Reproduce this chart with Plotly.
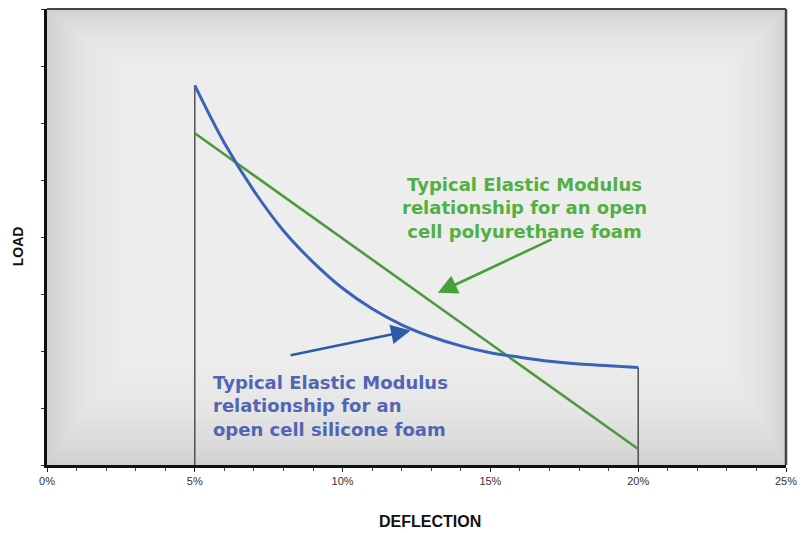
import plotly.graph_objects as go

# ---------------- data ----------------
silicone_x = [5, 6, 7, 8, 9, 10, 11, 12, 13, 14, 15, 16, 17, 18, 19, 20]
silicone_y = [6.66, 5.65, 4.81, 4.11, 3.56, 3.10, 2.74, 2.46, 2.25, 2.09, 1.97, 1.89, 1.82, 1.77, 1.74, 1.71]

polyurethane_x = [5, 20]
polyurethane_y = [5.82, 0.28]

x_tickvals = [0, 5, 10, 15, 20, 25]
x_ticktext = ["0%", "5%", "10%", "15%", "20%", "25%"]

green_label = "Typical Elastic Modulus<br>relationship for an open<br>cell polyurethane foam"
blue_label = "Typical Elastic Modulus<br>relationship for an<br>open cell silicone foam"

BLUE = "#3a62b6"
GREEN = "#4b9a3c"
GREEN_TXT = "#50b044"
BLUE_TXT = "#5265b4"

fig = go.Figure()

# vertical bounding lines at the start/end of the deflection range
fig.add_trace(go.Scatter(x=[silicone_x[0], silicone_x[0]], y=[0, silicone_y[0]],
                         mode="lines", line=dict(color="#3a3a3a", width=1.3),
                         hoverinfo="skip", showlegend=False))
fig.add_trace(go.Scatter(x=[silicone_x[-1], silicone_x[-1]], y=[0, silicone_y[-1]],
                         mode="lines", line=dict(color="#3a3a3a", width=1.3),
                         hoverinfo="skip", showlegend=False))

fig.add_trace(go.Scatter(x=polyurethane_x, y=polyurethane_y, mode="lines",
                         line=dict(color=GREEN, width=2.6), name="Polyurethane",
                         showlegend=False))
fig.add_trace(go.Scatter(x=silicone_x, y=silicone_y, mode="lines",
                         line=dict(color=BLUE, width=3, shape="spline", smoothing=1.0),
                         name="Silicone", showlegend=False))

# ---------------- background vignette ----------------
shapes = []
n = 16
for i in range(n):
    fx = 0.004 + i * 0.0065
    fy = 0.008 + i * 0.012
    shapes.append(dict(type="rect", xref="x domain", yref="y domain",
                       x0=fx, x1=1 - fx * 0.8, y0=fy * 1.2, y1=1 - fy * 0.7,
                       fillcolor="rgba(242,242,242,0.11)", line=dict(width=0),
                       layer="below"))
# top / right frame lines
shapes.append(dict(type="line", xref="x domain", yref="y domain", x0=0, x1=1, y0=1, y1=1,
                   line=dict(color="#444", width=2)))
shapes.append(dict(type="line", xref="x domain", yref="y domain", x0=1, x1=1, y0=0, y1=1,
                   line=dict(color="#444", width=2.5)))

annotations = [
    dict(x=16.14, y=4.51, xref="x", yref="y", text=green_label, showarrow=False,
         font=dict(family="DejaVu Sans", size=18, color=GREEN_TXT, weight="bold"),
         align="center", xanchor="center", yanchor="middle"),
    dict(x=5.55, y=1.03, xref="x", yref="y", text=blue_label, showarrow=False,
         font=dict(family="DejaVu Sans", size=18, color=BLUE_TXT, weight="bold"),
         align="left", xanchor="left", yanchor="middle"),
    # arrows
    dict(x=13.22, y=3.02, ax=17.12, ay=3.97, xref="x", yref="y", axref="x", ayref="y",
         text="", showarrow=True, arrowhead=2, arrowsize=1.5, arrowwidth=2.6,
         arrowcolor="#46a03a"),
    dict(x=12.3, y=2.36, ax=8.19, ay=1.92, xref="x", yref="y", axref="x", ayref="y",
         text="", showarrow=True, arrowhead=2, arrowsize=1.5, arrowwidth=2.6,
         arrowcolor="#2c5ca8"),
    # axis titles
    dict(x=0.518, y=-0.123, xref="paper", yref="paper", text="<b>DEFLECTION</b>",
         showarrow=False, font=dict(family="Liberation Sans", size=16, color="#111"),
         xanchor="center", yanchor="middle"),
    dict(x=-0.039, y=0.48, xref="paper", yref="paper", text="<b>LOAD</b>", textangle=-90,
         showarrow=False, font=dict(family="Liberation Sans", size=14, color="#111"),
         xanchor="center", yanchor="middle"),
]

# page has an 8px body margin, so the figure is sized to fit the 805x533 window
fig.update_layout(
    width=797, height=525,
    margin=dict(l=39, r=19, t=1, b=68, autoexpand=False),
    paper_bgcolor="white",
    plot_bgcolor="#d0d0d0",
    shapes=shapes,
    annotations=annotations,
    font=dict(family="Liberation Sans", color="#333"),
)

fig.update_xaxes(
    range=[0, 25], tickvals=x_tickvals, ticktext=x_ticktext,
    automargin=False,
    showgrid=False, zeroline=False,
    showline=True, linecolor="#111", linewidth=3,
    ticks="outside", ticklen=4, tickwidth=1.2, tickcolor="#222",
    minor=dict(dtick=1, ticks="outside", ticklen=3, tickcolor="#444", showgrid=False),
    tickfont=dict(family="Liberation Sans", size=11, color="#333"),
)
fig.update_yaxes(
    range=[0, 8], dtick=1, showticklabels=False,
    automargin=False,
    showgrid=False, zeroline=False,
    showline=True, linecolor="#111", linewidth=3,
    ticks="outside", ticklen=3, tickwidth=1.2, tickcolor="#333",
)

fig.write_html("out.html")
